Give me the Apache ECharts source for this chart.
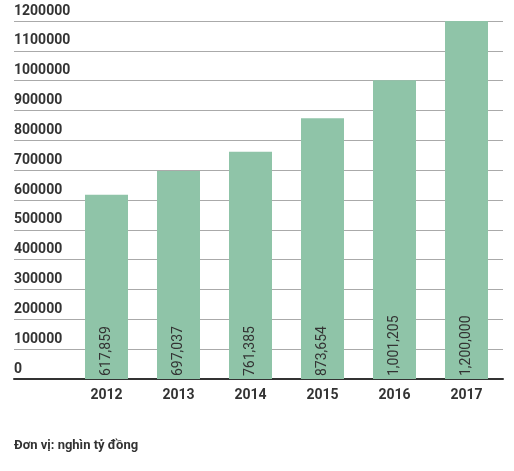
<!DOCTYPE html>
<html>
<head>
    <meta charset='utf-8'>
    <script src="https://cdn.jsdelivr.net/npm/echarts@6/dist/echarts.min.js"></script>
</head>
<body>
<style>
    html, body, #main {
        width: 100%;
        height: 100%;
        margin: 0;
        padding: 0;
        background: #fff;
    }
</style>
<div id="main"></div>
<script>
    var years = ['2012', '2013', '2014', '2015', '2016', '2017'];
    var values = [617859, 697037, 761385, 873654, 1001205, 1200000];
    var unitNote = 'Đơn vị: nghìn tỷ đồng';

    var chart = echarts.init(document.getElementById('main'));
    var fontFamily = 'Roboto, "Noto Sans", sans-serif';

    chart.setOption({
        animation: false,
        textStyle: {fontFamily: fontFamily},
        title: {
            text: unitNote,
            left: 9,
            top: 434,
            textStyle: {fontSize: 13, fontWeight: 'bold', color: '#333', fontFamily: fontFamily}
        },
        grid: [
            // background grid: wide, carries the value labels and split lines
            {left: 14, right: 11, top: 21, bottom: 92},
            // bars
            {left: 70.5, right: 11.5, top: 21, bottom: 92}
        ],
        xAxis: [{
            gridIndex: 0,
            type: 'value',
            min: 0,
            max: 1,
            axisLine: {show: true, lineStyle: {color: '#333', width: 2}},
            axisTick: {show: false},
            axisLabel: {show: false},
            splitLine: {show: false}
        }, {
            gridIndex: 1,
            type: 'category',
            data: years,
            axisLine: {show: false},
            axisTick: {show: false},
            axisLabel: {
                margin: 9,
                fontSize: 14,
                fontWeight: 'bold',
                color: '#333',
                fontFamily: fontFamily
            }
        }],
        yAxis: [{
            gridIndex: 0,
            type: 'value',
            min: 0,
            max: 1200000,
            interval: 100000,
            axisLine: {show: false},
            axisTick: {show: false},
            axisLabel: {
                inside: true,
                margin: 0,
                align: 'left',
                verticalAlign: 'bottom',
                padding: [0, 0, 3, 0],
                fontSize: 14,
                fontWeight: 'bold',
                color: '#333',
                fontFamily: fontFamily,
                formatter: function (v) {
                    return String(v);
                }
            },
            splitLine: {lineStyle: {color: '#aaa', width: 1}}
        }, {
            gridIndex: 1,
            type: 'value',
            min: 0,
            max: 1200000,
            show: false
        }],
        series: [{
            type: 'bar',
            xAxisIndex: 1,
            yAxisIndex: 1,
            data: values,
            barWidth: 43,
            itemStyle: {color: '#8fc4a8'},
            label: {
                show: true,
                position: 'insideBottom',
                rotate: 90,
                align: 'left',
                verticalAlign: 'middle',
                distance: 3,
                fontSize: 14,
                color: '#333',
                fontFamily: fontFamily,
                formatter: function (p) {
                    return p.value.toLocaleString('en-US');
                }
            }
        }]
    });
</script>
</body>
</html>
